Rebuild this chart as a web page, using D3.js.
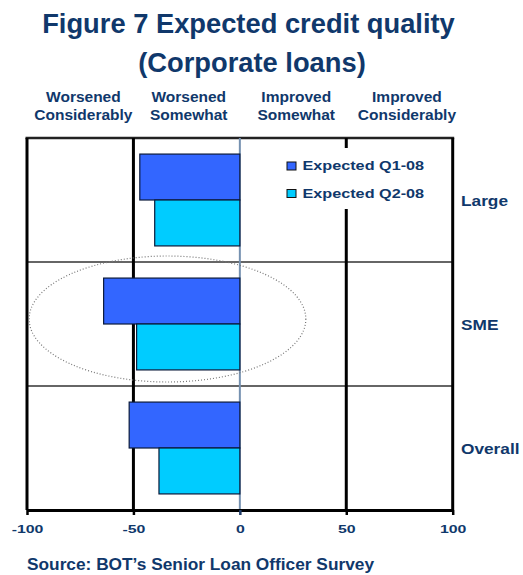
<!DOCTYPE html>
<html>
<head>
<meta charset="utf-8">
<script src="https://cdn.jsdelivr.net/npm/d3@7"></script>
<style>
    body { margin: 0; background: #ffffff; }
    .vis-chart { width: 523px; height: 575px; }
    text { font-family: "Liberation Sans", Arial, sans-serif; font-weight: bold; }
</style>
</head>
<body>
<div class="vis-chart"></div>
<script>
// data
const categories = ['Large', 'SME', 'Overall']
const seriesNames = ['Expected Q1-08', 'Expected Q2-08']
const q1Values = [-47, -64, -52]
const q2Values = [-40, -48.5, -38]
const xTicks = [-100, -50, 0, 50, 100]
const headerLabels = [
    ['Worsened', 'Considerably'],
    ['Worsened', 'Somewhat'],
    ['Improved', 'Somewhat'],
    ['Improved', 'Considerably']
]
const headerCenters = [-73.5, -24, 26.5, 78.5]
const titleLines = ['Figure 7 Expected credit quality', '(Corporate loans)']
const sourceText = 'Source: BOT\u2019s Senior Loan Officer Survey'

const seriesColors = ['#3366ff', '#00ccff']
const textColor = '#10386b'

const dimensions = {
    width: 523,
    height: 575,
    margin: {
        top: 138,
        right: 70.3,
        bottom: 65,
        left: 27
    }
}

let visChart = d3.select('.vis-chart').append('svg')
    .attr('width', dimensions.width)
    .attr('height', dimensions.height)
    .style('background-color', '#ffffff')

let xScale, yScale, ySeries

// stretch text sideways, the original fonts are wider than arial
function stretch(sel, k) {
    sel.each(function () {
        const w = this.getComputedTextLength()
        d3.select(this)
            .attr('textLength', w * k)
            .attr('lengthAdjust', 'spacingAndGlyphs')
    })
}

function makeVisualization() {
    xScale = d3.scaleLinear()
        .domain([-100, 100])
        .range([dimensions.margin.left, dimensions.width - dimensions.margin.right])

    yScale = d3.scaleBand()
        .domain(categories)
        .range([dimensions.margin.top, dimensions.height - dimensions.margin.bottom])
        .padding(0)

    ySeries = d3.scaleBand()
        .domain(seriesNames)
        .range([0, yScale.bandwidth()])
        .paddingInner(0)
        .paddingOuter(0.35)

    drawTitle()
    drawGrid()
    drawBars()
    drawEllipse()
    drawAxis()
    drawLegend()
    drawLabels()
}

/******** title and headings ********/
function drawTitle() {
    visChart.selectAll('.title')
        .data(titleLines)
        .enter().append('text')
        .attr('class', 'title')
        .attr('x', (d, i) => i === 0 ? 248.5 : 252)
        .attr('y', (d, i) => 33 + i * 39)
        .attr('text-anchor', 'middle')
        .style('font-size', '27.3px')
        .style('fill', textColor)
        .text(d => d)

    headerLabels.forEach((lines, i) => {
        const t = visChart.append('text')
            .attr('text-anchor', 'middle')
            .style('font-size', '15.5px')
            .style('fill', textColor)
        lines.forEach((line, j) => {
            t.append('tspan')
                .attr('x', xScale(headerCenters[i]))
                .attr('y', 102 + j * 18)
                .text(line)
        })
    })

    visChart.append('text')
        .attr('x', dimensions.margin.left)
        .attr('y', 570)
        .style('font-size', '17.3px')
        .style('fill', textColor)
        .text(sourceText)
}

/******** grid lines ********/
function drawGrid() {
    const top = yScale.range()[0]
    const bottom = yScale.range()[1]

    // band separators
    visChart.selectAll('.sep')
        .data(categories.slice(1))
        .enter().append('line')
        .attr('x1', xScale(-100))
        .attr('x2', xScale(100))
        .attr('y1', d => yScale(d))
        .attr('y2', d => yScale(d))
        .attr('stroke', '#333333')
        .attr('stroke-width', 1.5)

    visChart.append('line')
        .attr('x1', xScale(-100) - 1.5)
        .attr('x2', xScale(100) + 1.5)
        .attr('y1', top)
        .attr('y2', top)
        .attr('stroke', '#222222')
        .attr('stroke-width', 2.5)

    visChart.selectAll('.vline')
        .data(xTicks.filter(d => d !== 0))
        .enter().append('line')
        .attr('x1', d => xScale(d))
        .attr('x2', d => xScale(d))
        .attr('y1', top)
        .attr('y2', bottom)
        .attr('stroke', '#000000')
        .attr('stroke-width', 3)

    visChart.append('line')
        .attr('x1', xScale(0))
        .attr('x2', xScale(0))
        .attr('y1', top)
        .attr('y2', bottom)
        .attr('stroke', '#7591b0')
        .attr('stroke-width', 2)
}

/******** bars ********/
function drawBars() {
    const rows = []
    categories.forEach((c, i) => {
        rows.push({ cat: c, series: seriesNames[0], value: q1Values[i], color: seriesColors[0] })
        rows.push({ cat: c, series: seriesNames[1], value: q2Values[i], color: seriesColors[1] })
    })

    visChart.selectAll('.bar')
        .data(rows)
        .enter().append('rect')
        .attr('class', 'bar')
        .attr('x', d => xScale(d.value))
        .attr('y', d => yScale(d.cat) + ySeries(d.series))
        .attr('width', d => xScale(0) - xScale(d.value))
        .attr('height', ySeries.bandwidth())
        .attr('fill', d => d.color)
        .attr('stroke', '#0b1a3a')
        .attr('stroke-width', 1.2)
}

/******** dotted ellipse round SME ********/
function drawEllipse() {
    visChart.append('ellipse')
        .attr('cx', xScale(-34))
        .attr('cy', yScale('SME') + yScale.bandwidth() / 2 - 5)
        .attr('rx', xScale(65) - xScale(0))
        .attr('ry', 63)
        .attr('fill', 'none')
        .attr('stroke', '#777777')
        .attr('stroke-width', 1.2)
        .attr('stroke-dasharray', '1,2')
}

/******** x axis ********/
function drawAxis() {
    const xAxis = d3.axisBottom(xScale)
        .tickValues(xTicks)
        .tickSize(5)
        .tickSizeOuter(0)
        .tickFormat(d => String(d))

    const g = visChart.append('g')
        .attr('transform', 'translate(0,' + yScale.range()[1] + ')')
        .call(xAxis)

    g.select('.domain')
        .attr('stroke', '#000000')
        .attr('stroke-width', 3)
    g.selectAll('.tick line')
        .attr('stroke', (d) => d === 0 ? '#1e3a66' : '#000000')
        .attr('stroke-width', 2.5)
    g.selectAll('.tick text')
        .attr('y', 23)
        .attr('dy', 0)
        .style('font-size', '11px')
        .style('font-family', '"Liberation Sans", Arial, sans-serif')
        .style('font-weight', 'bold')
        .style('fill', textColor)
        .call(stretch, 1.44)
}

/******** legend ********/
function drawLegend() {
    visChart.append('rect')
        .attr('x', 280)
        .attr('y', 148)
        .attr('width', 160)
        .attr('height', 61)
        .attr('fill', '#ffffff')

    const items = visChart.selectAll('.legend')
        .data(seriesNames)
        .enter().append('g')
        .attr('transform', (d, i) => 'translate(287,' + (162 + i * 27.5) + ')')

    items.append('rect')
        .attr('width', 9)
        .attr('height', 8)
        .attr('fill', (d, i) => seriesColors[i])
        .attr('stroke', '#111111')
        .attr('stroke-width', 1)

    items.append('text')
        .attr('x', 15.5)
        .attr('y', 8)
        .style('font-size', '12px')
        .style('fill', textColor)
        .text(d => d)
        .call(stretch, 1.35)
}

/******** category labels ********/
function drawLabels() {
    visChart.selectAll('.cat')
        .data(categories)
        .enter().append('text')
        .attr('x', 461)
        .attr('y', d => yScale(d) + yScale.bandwidth() / 2 + 5.5)
        .style('font-size', '14.5px')
        .style('fill', textColor)
        .text(d => d)
        .call(stretch, 1.19)
}

makeVisualization()
</script>
</body>
</html>
